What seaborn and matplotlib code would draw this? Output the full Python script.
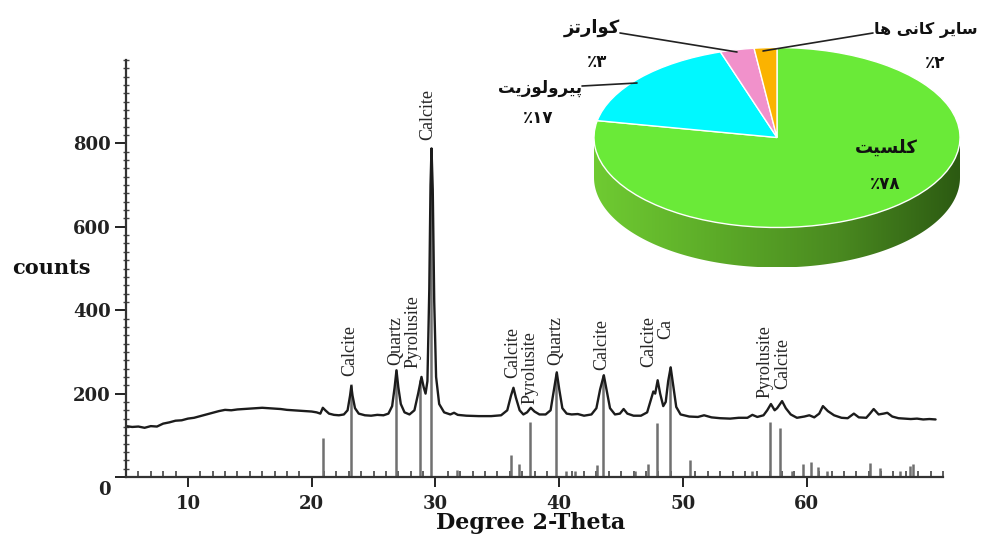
import matplotlib
matplotlib.use("Agg")
import matplotlib.pyplot as plt
import seaborn as sns
import pandas as pd
from matplotlib.lines import Line2D
from matplotlib.patches import Polygon
from matplotlib.colors import LinearSegmentedColormap
from matplotlib.ticker import MultipleLocator
from matplotlib.transforms import ScaledTranslation
import numpy as np

# ---- XRD pattern ----
two_theta = [5.0, 5.5, 6.0, 6.5, 7.0, 7.5, 8.0, 8.5, 9.0, 9.5, 10.0, 10.5, 11.0, 11.5, 12.0,
             12.5, 13.0, 13.5, 14.0, 14.5, 15.0, 15.5, 16.0, 16.5, 17.0, 17.5, 18.0, 18.5,
             19.0, 19.5, 20.0, 20.4, 20.7, 20.9, 21.1, 21.4, 21.8, 22.2, 22.6, 22.9, 23.1,
             23.2, 23.3, 23.5, 23.8, 24.3, 24.8, 25.3, 25.8, 26.2, 26.5, 26.7, 26.85, 27.0,
             27.2, 27.5, 27.9, 28.3, 28.6, 28.87, 29.05, 29.2, 29.35, 29.5, 29.6, 29.68,
             29.78, 29.9, 30.05, 30.3, 30.7, 31.2, 31.5, 31.8, 32.5, 33.5, 34.5, 35.3, 35.8,
             36.1, 36.3, 36.5, 36.8, 37.1, 37.4, 37.7, 38.0, 38.4, 38.9, 39.3, 39.55, 39.8,
             40.0, 40.25, 40.6, 41.0, 41.5, 42.0, 42.6, 43.0, 43.3, 43.6, 43.85, 44.1, 44.5,
             44.9, 45.2, 45.5, 46.0, 46.6, 47.1, 47.4, 47.6, 47.75, 47.95, 48.15, 48.4, 48.6,
             48.8, 49.0, 49.2, 49.45, 49.8, 50.5, 51.2, 51.7, 52.3, 53.0, 53.8, 54.5, 55.2,
             55.6, 56.0, 56.5, 56.8, 57.1, 57.4, 57.6, 58.0, 58.3, 58.7, 59.2, 59.8, 60.2,
             60.6, 61.0, 61.3, 61.7, 62.2, 62.8, 63.3, 63.8, 64.2, 64.8, 65.1, 65.4, 65.8,
             66.2, 66.5, 66.9, 67.4, 67.9, 68.4, 68.9, 69.4, 69.9, 70.4]
counts = [122, 120, 121, 118, 122, 121, 128, 131, 135, 136, 140, 142, 146, 150, 154,
          158, 161, 160, 162, 163, 164, 165, 166, 165, 164, 163, 161, 160,
          159, 158, 157, 155, 152, 166, 160, 152, 149, 148, 150, 160, 195,
          218, 195, 165, 152, 148, 147, 149, 148, 152, 170, 215, 256, 215,
          175, 155, 150, 160, 200, 240, 215, 200, 230, 450, 700, 788,
          690, 420, 240, 175, 155, 150, 154, 149, 147, 146, 146, 148, 160,
          195, 214, 190, 160, 150, 155, 166, 157, 150, 150, 160, 205, 251,
          210, 165, 152, 150, 151, 147, 150, 165, 210, 244, 205, 165, 150,
          152, 163, 152, 147, 147, 155, 185, 205, 200, 232, 200, 170, 180,
          230, 263, 220, 168, 150, 145, 144, 148, 143, 141, 140, 142, 142,
          149, 144, 148, 160, 175, 160, 165, 182, 165, 150, 142, 145, 148,
          143, 152, 170, 158, 148, 142, 141, 152, 143, 142, 152, 163, 150,
          152, 154, 145, 141, 140, 139, 140, 138, 139, 138]

# reference (stick) pattern
stick_pos = [20.9, 23.2, 26.8, 28.75, 29.65, 31.75, 36.1, 36.75, 37.65, 39.75, 40.55,
             41.3, 43.05, 43.55, 46.15, 47.2, 47.9, 48.95, 50.6, 55.6, 57.05, 57.85,
             58.8, 59.7, 60.3, 60.9, 61.6, 65.1, 65.9, 67.55, 68.35, 68.6]
stick_h = [93, 222, 256, 232, 788, 17, 53, 30, 132, 250, 15,
           15, 28, 244, 14, 30, 130, 263, 40, 14, 132, 118,
           15, 32, 35, 25, 14, 33, 22, 15, 26, 30]

# phase labels over the peaks
phase_names = ["Calcite", "Quartz", "Pyrolusite", "Calcite", "Calcite", "Pyrolusite",
               "Quartz", "Calcite", "Calcite", "Ca", "Pyrolusite", "Calcite"]
phase_x = [23.1, 26.8, 28.2, 29.4, 36.27, 37.65, 39.75, 43.47, 47.19, 48.64, 56.65, 58.02]
phase_y = [242, 268, 261, 807, 237, 175, 268, 256, 263, 330, 190, 212]

xticks = [10, 20, 30, 40, 50, 60]
yticks = [0, 200, 400, 600, 800]

# ---- mineral composition pie ----
minerals = ["کلسیت", "پیرولوزیت", "کوارتز", "سایر کانی ها"]
shares = [78, 17, 3, 2]
share_text = ["٪۷۸", "٪۱۷", "٪۳", "٪۲"]
pie_colors = ["#6aea38", "#00f8ff", "#f191cb", "#fbb300"]

# Arabic-script shaping (matplotlib has no text shaping of its own)
FORMS = {
    "ا": ("\uFE8D", "\uFE8E", None, None),
    "ت": ("\uFE95", "\uFE96", "\uFE97", "\uFE98"),
    "ر": ("\uFEAD", "\uFEAE", None, None),
    "ز": ("\uFEAF", "\uFEB0", None, None),
    "س": ("\uFEB1", "\uFEB2", "\uFEB3", "\uFEB4"),
    "ل": ("\uFEDD", "\uFEDE", "\uFEDF", "\uFEE0"),
    "ن": ("\uFEE5", "\uFEE6", "\uFEE7", "\uFEE8"),
    "ه": ("\uFEE9", "\uFEEA", "\uFEEB", "\uFEEC"),
    "و": ("\uFEED", "\uFEEE", None, None),
    "پ": ("\uFB56", "\uFB57", "\uFB58", "\uFB59"),
    "ک": ("\uFB8E", "\uFB8F", "\uFB90", "\uFB91"),
    "ی": ("\uFBFC", "\uFBFD", "\uFBFE", "\uFBFF"),
}


def shape(s):
    out = []
    for i, ch in enumerate(s):
        if ch not in FORMS:
            out.append(ch)
            continue
        iso, fin, ini, med = FORMS[ch]
        prev = s[i - 1] if i > 0 else ""
        nxt = s[i + 1] if i + 1 < len(s) else ""
        jp = prev in FORMS and FORMS[prev][2] is not None
        jn = nxt in FORMS and ini is not None
        if jp and jn:
            out.append(med)
        elif jp:
            out.append(fin)
        elif jn:
            out.append(ini)
        else:
            out.append(iso)
    return "".join(reversed(out))


sns.set_style("ticks")
plt.rcParams["font.family"] = ["DejaVu Serif"]

W, H = 982, 536
fig = plt.figure(figsize=(W / 100, H / 100), dpi=100)

def fx(px):
    return px / W

def fy(py):
    return 1 - py / H

ax = fig.add_axes([fx(126), fy(477), fx(943) - fx(126), fy(60) - fy(477)])
ax.patch.set_alpha(0)

df = pd.DataFrame({"two_theta": two_theta, "counts": counts})
ax.vlines(stick_pos, 0, stick_h, color="#707070", lw=1.8, zorder=1)
sns.lineplot(data=df, x="two_theta", y="counts", ax=ax, color="#1c1c1c", lw=1.7,
             estimator=None, sort=False, zorder=2)
ax.set_xlabel("")

for name, x, y in zip(phase_names, phase_x, phase_y):
    ax.text(x, y, name, rotation=90, ha="center", va="bottom",
            family="Liberation Serif", fontsize=13, color="#262626")

ax.set_xlim(5, 71)
ax.set_ylim(0, 1000)
ax.set_xticks(xticks)
ax.set_yticks(yticks)
ax.xaxis.set_minor_locator(MultipleLocator(1))
ax.yaxis.set_minor_locator(MultipleLocator(20))
ax.tick_params(axis="x", which="major", direction="out", length=7, width=1.4, pad=6,
               labelsize=13, colors="#222")
ax.tick_params(axis="x", which="minor", direction="in", length=4, width=1.2, colors="#444")
ax.tick_params(axis="y", which="major", direction="out", length=8, width=1.4, pad=3,
               labelsize=13, colors="#222")
ax.tick_params(axis="y", which="minor", direction="inout", length=5, width=1.0, colors="#444")
for lbl in ax.get_xticklabels() + ax.get_yticklabels():
    lbl.set_fontweight("bold")
    lbl.set_family("DejaVu Serif")
# the "0" label sits a little below the axis in the original
zero = ax.get_yticklabels()[0]
zero.set_transform(zero.get_transform() + ScaledTranslation(0, -8 / 72, fig.dpi_scale_trans))
for s in ["top", "right"]:
    ax.spines[s].set_visible(False)
for s in ["left", "bottom"]:
    ax.spines[s].set_linewidth(1.6)
    ax.spines[s].set_color("#333")

fig.text(fx(531), fy(529), "Degree 2-Theta", ha="center", va="baseline", fontsize=16,
         fontweight="bold", family="DejaVu Serif", color="#111")
ax.set_ylabel("counts", rotation=0, fontsize=15, fontweight="bold", family="DejaVu Serif",
              color="#111", ha="center", va="center")
ax.yaxis.set_label_coords(-0.091, 0.5)

# ---- pseudo-3D pie inset ----
rx, ry, depth = 183, 90, 40
cx, cy = 777, 137.5
d = depth / ry
pax = fig.add_axes([fx(cx - rx), fy(cy + ry + depth), 2 * rx / W, (2 * ry + depth) / H])
wedges, _ = pax.pie(shares, colors=pie_colors, startangle=90, counterclock=False,
                    wedgeprops=dict(edgecolor="white", linewidth=1.0))
for w in wedges:
    w.set_zorder(3)
t = np.linspace(np.pi, 2 * np.pi, 200)
wall = [(-1, 0)] + list(zip(np.cos(t), np.sin(t) - d)) + [(1, 0)]
wall_patch = Polygon(wall, closed=True, facecolor="none", edgecolor="none")
pax.add_patch(wall_patch)
wall_cmap = LinearSegmentedColormap.from_list("wall", ["#6fcb32", "#5cab28", "#4a8a20", "#2c5a12"])
grad = np.linspace(0, 1, 256).reshape(1, -1)
im = pax.imshow(grad, extent=[-1, 1, -1 - d, 0], cmap=wall_cmap, aspect="auto", zorder=1)
im.set_clip_path(wall_patch)
pax.set_aspect("auto")
pax.set_xlim(-1, 1)
pax.set_ylim(-1 - d, 1)
pax.axis("off")

# labels of the pie (pixel positions in the figure)
name_xy = [(886, 148), (540, 88), (592, 28), (926, 30)]
pct_xy = [(885, 184), (538, 118), (597, 62), (935, 63)]
name_size = [13, 12, 13, 11.5]
for name, pct, (nx, ny), (qx, qy), fs in zip(minerals, share_text, name_xy, pct_xy, name_size):
    fig.text(fx(nx), fy(ny), shape(name), ha="center", va="center", fontsize=fs,
             fontweight="bold", family=["DejaVu Sans"], color="#111")
    fig.text(fx(qx), fy(qy), pct, ha="center", va="center", fontsize=12,
             fontweight="bold", family=["DejaVu Sans"], color="#111")

leaders = [((582, 86), (637, 83)), ((620, 33), (737, 52)), ((873, 33), (763, 51))]
for (x0, y0), (x1, y1) in leaders:
    fig.add_artist(Line2D([fx(x0), fx(x1)], [fy(y0), fy(y1)], color="#222", lw=1.2,
                          transform=fig.transFigure))

fig.savefig("out.png", dpi=100)
